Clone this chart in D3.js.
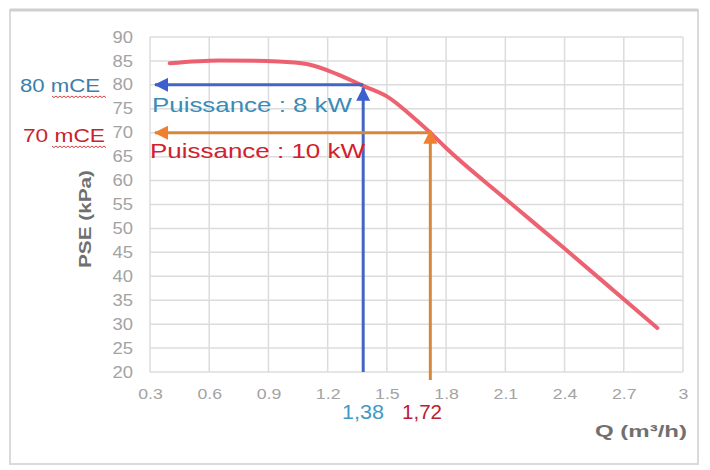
<!DOCTYPE html>
<html>
<head>
<meta charset="utf-8">
<script src="https://cdn.jsdelivr.net/npm/d3@7"></script>
<style>
  body { margin: 0; background: #fff; }
  text { font-family: "Liberation Sans", Arial, sans-serif; }
</style>
</head>
<body>
<div id="chart"></div>
<script>
// pump curve
const qValues   = [0.4, 0.65, 0.95, 1.1, 1.25, 1.38, 1.5, 1.65, 1.72, 1.8, 2.1, 2.4, 2.7, 2.87];
const pseValues = [84.5, 85.1, 84.9, 84.3, 82.2, 79.8, 77.6, 72.6, 70, 66.8, 56.2, 45.8, 35.2, 29.2];

// operating points (blue = 8 kW, orange = 10 kW)
const opQ = [1.38, 1.72];
const opPSE = [80, 70];
const opLabelsQ = ["1,38", "1,72"];
const opLabelsH = ["80 mCE", "70 mCE"];
const opLabelsP = ["Puissance : 8 kW", "Puissance : 10 kW"];

const xTicks = [0.3, 0.6, 0.9, 1.2, 1.5, 1.8, 2.1, 2.4, 2.7, 3];
const xTickLabels = ["0.3", "0.6", "0.9", "1.2", "1.5", "1.8", "2.1", "2.4", "2.7", "3"];
const yTicks = [20, 25, 30, 35, 40, 45, 50, 55, 60, 65, 70, 75, 80, 85, 90];

const W = 710, H = 470;
const margin = {top: 37, right: 27, bottom: 98, left: 150};
const width = W - margin.left - margin.right;
const height = H - margin.top - margin.bottom;

const svg = d3.select("#chart").append("svg")
  .attr("width", W)
  .attr("height", H);

svg.append("rect").attr("width", W).attr("height", H).attr("fill", "#fff");

// outer frame
svg.append("rect")
  .attr("x", 10).attr("y", 10)
  .attr("width", 688).attr("height", 454)
  .attr("fill", "none")
  .attr("stroke", "#dadada")
  .attr("stroke-width", 2);
svg.append("line")
  .attr("x1", 10).attr("x2", 698)
  .attr("y1", 10).attr("y2", 10)
  .attr("stroke", "#cfcfcf")
  .attr("stroke-width", 3);

const g = svg.append("g")
  .attr("transform", "translate(" + margin.left + "," + margin.top + ")");

const xScale = d3.scaleLinear().domain([0.3, 3]).range([0, width]);
const yScale = d3.scaleLinear().domain([20, 90]).range([height, 0]);

// stretch text a bit horizontally, the source image is wider than normal glyphs
function stretch(sel, k) {
  sel.each(function () {
    const w = this.getComputedTextLength();
    d3.select(this).attr("textLength", w * k).attr("lengthAdjust", "spacingAndGlyphs");
  });
}

// grid
g.append("g").selectAll("line")
  .data(yTicks)
  .join("line")
  .attr("x1", 0).attr("x2", width)
  .attr("y1", d => yScale(d)).attr("y2", d => yScale(d))
  .attr("stroke", "#dcdcdc")
  .attr("stroke-width", 1.5);

g.append("g").selectAll("line")
  .data(xTicks)
  .join("line")
  .attr("x1", d => xScale(d)).attr("x2", d => xScale(d))
  .attr("y1", 0).attr("y2", height)
  .attr("stroke", "#dcdcdc")
  .attr("stroke-width", 1.5);

// axes (labels only)
const xAxisG = g.append("g")
  .attr("transform", "translate(0," + (height + 16) + ")")
  .call(d3.axisBottom(xScale).tickValues(xTicks).tickSize(0).tickFormat((d, i) => xTickLabels[i]));
xAxisG.select(".domain").remove();
xAxisG.selectAll("text")
  .attr("dy", "0.35em")
  .attr("y", 6)
  .style("font-size", "15px")
  .style("font-family", "Liberation Sans, Arial, sans-serif")
  .attr("fill", "#a3a3a3")
  .call(stretch, 1.18);

const yAxisG = g.append("g")
  .attr("transform", "translate(-17,0)")
  .call(d3.axisLeft(yScale).tickValues(yTicks).tickSize(0).tickFormat(d3.format("d")));
yAxisG.select(".domain").remove();
yAxisG.selectAll("text")
  .attr("x", 0)
  .style("font-size", "16px")
  .style("font-family", "Liberation Sans, Arial, sans-serif")
  .attr("fill", "#a3a3a3")
  .call(stretch, 1.15);

// axis titles
svg.append("text")
  .attr("x", 595).attr("y", 437)
  .style("font-size", "17px")
  .style("font-weight", "bold")
  .attr("fill", "#707070")
  .attr("textLength", 92).attr("lengthAdjust", "spacingAndGlyphs")
  .text("Q (m³/h)");

svg.append("text")
  .attr("transform", "translate(91,219) rotate(-90)")
  .attr("text-anchor", "middle")
  .style("font-size", "17px")
  .style("font-weight", "bold")
  .attr("fill", "#707070")
  .attr("textLength", 98).attr("lengthAdjust", "spacingAndGlyphs")
  .text("PSE (kPa)");

// pump curve
const curveData = qValues.map((q, i) => ({q: q, p: pseValues[i]}));
g.append("path")
  .datum(curveData)
  .attr("fill", "none")
  .attr("stroke", "#ec5565")
  .attr("stroke-opacity", 0.92)
  .attr("stroke-width", 4)
  .attr("stroke-linecap", "round")
  .attr("d", d3.line().x(d => xScale(d.q)).y(d => yScale(d.p)).curve(d3.curveMonotoneX));

// arrows
const arrowColors = ["#4266c2", "#d6883a"];
const headColors = ["#3d5fd0", "#ee8030"];
const defs = svg.append("defs");
headColors.forEach((c, i) => {
  defs.append("marker")
    .attr("id", "head" + i)
    .attr("viewBox", "0 0 14 14")
    .attr("refX", 13).attr("refY", 7)
    .attr("markerWidth", 14).attr("markerHeight", 14)
    .attr("markerUnits", "userSpaceOnUse")
    .attr("orient", "auto")
    .append("path")
    .attr("d", "M0,0 L14,7 L0,14 Z")
    .attr("fill", c);
});

const vBottom = [height, height + 8];
const vTipOffset = [3, -2];

opQ.forEach((q, i) => {
  // horizontal arrow from the vertical line back to the PSE axis
  g.append("line")
    .attr("x1", xScale(q)).attr("y1", yScale(opPSE[i]))
    .attr("x2", xScale(0.3) + 5).attr("y2", yScale(opPSE[i]))
    .attr("stroke", arrowColors[i])
    .attr("stroke-width", 3)
    .attr("marker-end", "url(#head" + i + ")");
  // vertical arrow from the Q axis up to the curve
  g.append("line")
    .attr("x1", xScale(q)).attr("y1", vBottom[i])
    .attr("x2", xScale(q)).attr("y2", yScale(opPSE[i]) + vTipOffset[i])
    .attr("stroke", arrowColors[i])
    .attr("stroke-width", 3)
    .attr("marker-end", "url(#head" + i + ")");
});

// annotation texts
const hColors = ["#3a80ab", "#c8232d"];
const pColors = ["#3a8cb8", "#d3202c"];
const qColors = ["#3f9bc4", "#bb2030"];
const hPos = [[20, 92], [23, 142]];
const pPos = [[152, 112], [150, 158]];
const qPos = [[342, 419], [402, 419]];
const hLen = [80, 82];
const pLen = [200, 215];
const qLen = [42, 40];

opLabelsH.forEach((t, i) => {
  svg.append("text")
    .attr("x", hPos[i][0]).attr("y", hPos[i][1])
    .style("font-size", "18px")
    .attr("fill", hColors[i])
    .attr("textLength", hLen[i]).attr("lengthAdjust", "spacingAndGlyphs")
    .text(t);

  // red spell-check squiggle under "mCE"
  const y0 = hPos[i][1] + 4;
  let d = "M52," + y0;
  for (let x = 52, k = 0; x < 106; x += 2, k++) {
    d += " L" + (x + 2) + "," + (y0 + (k % 2 ? 0 : 1.6));
  }
  svg.append("path")
    .attr("d", d)
    .attr("fill", "none")
    .attr("stroke", "#d04040")
    .attr("stroke-width", 1);
});

opLabelsP.forEach((t, i) => {
  svg.append("text")
    .attr("x", pPos[i][0]).attr("y", pPos[i][1])
    .style("font-size", "21px")
    .attr("fill", pColors[i])
    .attr("textLength", pLen[i]).attr("lengthAdjust", "spacingAndGlyphs")
    .text(t);
});

opLabelsQ.forEach((t, i) => {
  svg.append("text")
    .attr("x", qPos[i][0]).attr("y", qPos[i][1])
    .style("font-size", "20px")
    .attr("fill", qColors[i])
    .attr("textLength", qLen[i]).attr("lengthAdjust", "spacingAndGlyphs")
    .text(t);
});
</script>
</body>
</html>
